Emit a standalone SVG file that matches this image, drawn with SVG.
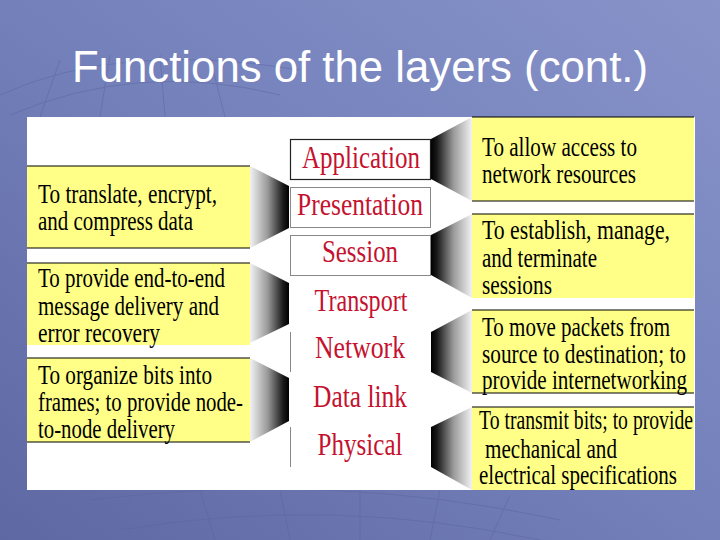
<svg xmlns="http://www.w3.org/2000/svg" width="720" height="540" viewBox="0 0 720 540">
<defs>
<linearGradient id="bg" x1="0" y1="1" x2="1" y2="0">
<stop offset="0" stop-color="#5e68a3"/>
<stop offset="0.5" stop-color="#7480ba"/>
<stop offset="1" stop-color="#8793c9"/>
</linearGradient>
<linearGradient id="wl" x1="0" y1="0" x2="1" y2="0">
<stop offset="0" stop-color="#f2f2f2"/>
<stop offset="0.45" stop-color="#9a9a9a"/>
<stop offset="0.85" stop-color="#1a1a1a"/>
<stop offset="1" stop-color="#000"/>
</linearGradient>
<linearGradient id="wr" x1="0" y1="0" x2="1" y2="0">
<stop offset="0" stop-color="#000"/>
<stop offset="0.15" stop-color="#1a1a1a"/>
<stop offset="0.55" stop-color="#9a9a9a"/>
<stop offset="1" stop-color="#f2f2f2"/>
</linearGradient>
<style>
.yb{fill:#ffff88}
.bl{stroke:#000;stroke-width:1.2}
.gl{stroke:#888;stroke-width:1;fill:none}
.fn{font-family:"Liberation Serif","Times New Roman",serif;font-size:27px;fill:#000}
.ly{font-family:"Liberation Serif","Times New Roman",serif;font-size:31px;fill:#c4122f;text-anchor:middle}
.grid{stroke:#5a64a0;stroke-width:1;fill:none;opacity:0.45}
</style>
</defs>
<rect width="720" height="540" fill="url(#bg)"/>
<g class="grid">
<path d="M0 95 Q120 40 300 70"/>
<path d="M10 115 Q140 60 280 95"/>
<path d="M60 60 L40 117"/><path d="M110 55 L100 117"/><path d="M160 55 L165 117"/><path d="M210 58 L225 117"/>
<path d="M90 500 Q330 470 560 520"/>
<path d="M120 530 Q330 495 540 540"/>
<path d="M200 490 L215 540"/><path d="M280 490 L290 540"/><path d="M360 490 L360 540"/><path d="M440 490 L430 540"/><path d="M510 495 L490 540"/>
</g>
<text x="72" y="82" font-family="'Liberation Sans',Arial,sans-serif" font-size="44" fill="#ffffff" textLength="576" lengthAdjust="spacingAndGlyphs">Functions of the layers (cont.)</text>
<rect x="27" y="117" width="668" height="373" fill="#ffffff"/>

<g id="connectors">
<polygon points="250,166 289,186 289,228 250,248" fill="url(#wl)"/>
<polygon points="250,263 289,283 289,324 250,343" fill="url(#wl)"/>
<polygon points="250,358 289,378 289,421 250,442" fill="url(#wl)"/>
<polygon points="431,139 472,117 472,201 431,179" fill="url(#wr)"/>
<polygon points="431,235 472,214 472,298 431,275" fill="url(#wr)"/>
<polygon points="431,332 472,310 472,393 431,372" fill="url(#wr)"/>
<polygon points="431,427 472,407 472,490 431,467" fill="url(#wr)"/>
</g>

<g id="layer-application">
<rect x="290.5" y="139.5" width="140" height="40" fill="#fff" stroke="#222" stroke-width="1.2"/>
<text class="ly" x="361" y="168" textLength="118" lengthAdjust="spacingAndGlyphs">Application</text>
</g>
<g id="layer-presentation">
<rect x="290.5" y="187.5" width="140" height="40" fill="#fff" stroke="#888" stroke-width="1"/>
<text class="ly" x="360" y="215" textLength="126" lengthAdjust="spacingAndGlyphs">Presentation</text>
</g>
<g id="layer-session">
<rect x="290.5" y="235.5" width="140" height="40" fill="#fff" stroke="#888" stroke-width="1"/>
<text class="ly" x="360" y="262" textLength="76" lengthAdjust="spacingAndGlyphs">Session</text>
</g>
<g id="layer-transport">
<text class="ly" x="361" y="311" textLength="93" lengthAdjust="spacingAndGlyphs">Transport</text>
</g>
<g id="layer-network">
<path class="gl" d="M290.5 332 V372"/>
<text class="ly" x="360" y="358" textLength="90" lengthAdjust="spacingAndGlyphs">Network</text>
</g>
<g id="layer-datalink">
<text class="ly" x="360" y="407" textLength="94" lengthAdjust="spacingAndGlyphs">Data link</text>
</g>
<g id="layer-physical">
<path class="gl" d="M290.5 427 V467"/>
<text class="ly" x="360" y="455" textLength="85" lengthAdjust="spacingAndGlyphs">Physical</text>
</g>

<g id="desc-presentation">
<rect class="yb" x="27" y="166" width="223" height="82"/>
<path class="bl" d="M27 166 H250 M27 248 H250"/>
<text class="fn" x="38" y="203" textLength="179" lengthAdjust="spacingAndGlyphs">To translate, encrypt,</text>
<text class="fn" x="38" y="230" textLength="155" lengthAdjust="spacingAndGlyphs">and compress data</text>
</g>
<g id="desc-transport">
<rect class="yb" x="27" y="263" width="223" height="82"/>
<path class="bl" d="M27 263 H250"/>
<text class="fn" x="38" y="287" textLength="187" lengthAdjust="spacingAndGlyphs">To provide end-to-end</text>
<text class="fn" x="38" y="315" textLength="181" lengthAdjust="spacingAndGlyphs">message delivery and</text>
<text class="fn" x="38" y="342" textLength="122" lengthAdjust="spacingAndGlyphs">error recovery</text>
</g>
<g id="desc-datalink">
<rect class="yb" x="27" y="358" width="223" height="84"/>
<path class="bl" d="M27 358 H250 M27 442 H250"/>
<text class="fn" x="38" y="384" textLength="174" lengthAdjust="spacingAndGlyphs">To organize bits into</text>
<text class="fn" x="38" y="411" textLength="205" lengthAdjust="spacingAndGlyphs">frames; to provide node-</text>
<text class="fn" x="38" y="438" textLength="137" lengthAdjust="spacingAndGlyphs">to-node delivery</text>
</g>

<g id="desc-application">
<rect class="yb" x="472" y="117" width="222" height="84"/>
<path class="bl" d="M472 117 H694 M472 201 H694"/>
<text class="fn" x="482" y="156" textLength="155" lengthAdjust="spacingAndGlyphs">To allow access to</text>
<text class="fn" x="482" y="183" textLength="154" lengthAdjust="spacingAndGlyphs">network resources</text>
</g>
<g id="desc-session">
<rect class="yb" x="472" y="214" width="222" height="84"/>
<path class="bl" d="M472 214 H694"/>
<text class="fn" x="482" y="239" textLength="188" lengthAdjust="spacingAndGlyphs">To establish, manage,</text>
<text class="fn" x="482" y="267" textLength="115" lengthAdjust="spacingAndGlyphs">and terminate</text>
<text class="fn" x="482" y="294" textLength="70" lengthAdjust="spacingAndGlyphs">sessions</text>
</g>
<g id="desc-network">
<rect class="yb" x="472" y="310" width="222" height="83"/>
<path class="bl" d="M472 310 H694 M472 393 H694"/>
<text class="fn" x="482" y="336" textLength="188" lengthAdjust="spacingAndGlyphs">To move packets from</text>
<text class="fn" x="482" y="363" textLength="204" lengthAdjust="spacingAndGlyphs">source to destination; to</text>
<text class="fn" x="482" y="389" textLength="205" lengthAdjust="spacingAndGlyphs">provide internetworking</text>
</g>
<g id="desc-physical">
<rect class="yb" x="472" y="407" width="222" height="83"/>
<path class="bl" d="M472 407 H694"/>
<text class="fn" x="479" y="429" textLength="214" lengthAdjust="spacingAndGlyphs">To transmit bits; to provide</text>
<text class="fn" x="485" y="458" textLength="132" lengthAdjust="spacingAndGlyphs">mechanical and</text>
<text class="fn" x="479" y="484" textLength="198" lengthAdjust="spacingAndGlyphs">electrical specifications</text>
</g>
</svg>
